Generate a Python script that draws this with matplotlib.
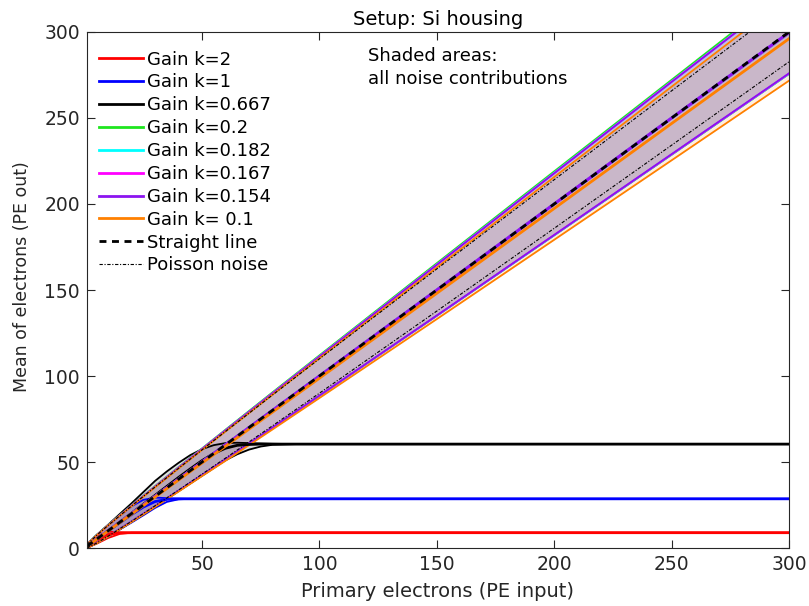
import numpy as np
import matplotlib
matplotlib.use("Agg")
import matplotlib.pyplot as plt

# primary electrons sampled for the saturating gains (k = 2, 1, 0.667)
pe_sat = [1, 5, 10, 15, 20, 25, 30, 35, 40, 45, 50, 55, 60, 65, 70, 75, 80, 90, 300]

k2_mean = [0.8, 4.5, 7.9, 8.8, 8.9, 8.9, 8.9, 8.9, 8.9, 8.9, 8.9, 8.9, 8.9, 8.9, 8.9, 8.9, 8.9, 8.9, 8.9]
k2_hi = [1.8, 6.6, 9.6, 9.1, 8.9, 8.9, 8.9, 8.9, 8.9, 8.9, 8.9, 8.9, 8.9, 8.9, 8.9, 8.9, 8.9, 8.9, 8.9]
k2_lo = [0.2, 2.4, 5.8, 8.2, 8.9, 8.9, 8.9, 8.9, 8.9, 8.9, 8.9, 8.9, 8.9, 8.9, 8.9, 8.9, 8.9, 8.9, 8.9]

k1_mean = [1.0, 5.0, 9.9, 14.7, 19.5, 23.8, 27.0, 28.3, 28.6, 28.6, 28.6, 28.6, 28.6, 28.6, 28.6, 28.6, 28.6, 28.6, 28.6]
k1_hi = [2.0, 7.3, 13.2, 18.8, 24.3, 28.0, 29.3, 29.0, 28.7, 28.6, 28.6, 28.6, 28.6, 28.6, 28.6, 28.6, 28.6, 28.6, 28.6]
k1_lo = [0.1, 2.8, 6.7, 10.8, 14.8, 19.0, 23.3, 26.8, 28.3, 28.6, 28.6, 28.6, 28.6, 28.6, 28.6, 28.6, 28.6, 28.6, 28.6]

k067_mean = [1.0, 5.0, 10.0, 15.0, 20.2, 25.4, 30.6, 35.8, 41.0, 46.0, 50.8, 55.0, 58.0, 59.7, 60.2, 60.4, 60.4, 60.4, 60.4]
k067_hi = [2.0, 7.4, 13.5, 19.8, 26.0, 32.5, 39.0, 44.5, 49.5, 54.0, 57.5, 59.8, 61.0, 61.2, 61.0, 60.8, 60.6, 60.4, 60.4]
k067_lo = [0.1, 2.7, 6.8, 10.8, 15.2, 19.5, 24.0, 28.5, 33.0, 37.5, 42.0, 46.5, 51.0, 54.5, 57.2, 59.0, 60.0, 60.4, 60.4]

# primary electrons sampled for the near-linear gains
pe_lin = [1, 5, 10, 20, 30, 40, 50, 60, 80, 100, 150, 200, 250, 300]

k02_mean = [1, 5, 10, 20, 30, 40, 50, 60, 80, 100, 150, 200, 250, 299.5]
k02_hi = [2.1, 7.4, 13.4, 24.8, 36.0, 47.0, 57.9, 68.8, 90.5, 112.0, 165.6, 219.0, 272.2, 325.4]
k02_lo = [0.0, 2.8, 6.8, 15.4, 24.3, 33.3, 42.4, 51.5, 70.0, 88.5, 135.0, 181.8, 228.6, 275.6]

k0182_mean = [1, 5, 10, 20, 30, 40, 50, 60, 80, 100, 150, 200, 250, 299.6]
k0182_hi = [2.0, 7.3, 13.2, 24.6, 35.7, 46.7, 57.6, 68.4, 90.0, 111.5, 164.9, 218.2, 271.3, 324.0]
k0182_lo = [0.0, 2.8, 6.8, 15.4, 24.3, 33.3, 42.4, 51.5, 69.9, 88.5, 135.0, 181.8, 228.7, 275.6]

k0167_mean = [1, 5, 10, 20, 30, 40, 50, 60, 80, 100, 150, 200, 250, 299.6]
k0167_hi = [2.0, 7.2, 13.2, 24.6, 35.7, 46.7, 57.6, 68.4, 90.0, 111.4, 164.8, 218.0, 271.2, 323.8]
k0167_lo = [0.0, 2.8, 6.8, 15.4, 24.3, 33.3, 42.4, 51.6, 70.0, 88.6, 135.1, 182.0, 228.8, 275.8]

k0154_mean = [1, 5, 10, 20, 30, 40, 50, 60, 80, 100, 150, 200, 250, 299.7]
k0154_hi = [2.0, 7.2, 13.1, 24.5, 35.6, 46.6, 57.4, 68.3, 89.8, 111.2, 164.6, 217.8, 270.9, 323.5]
k0154_lo = [0.0, 2.8, 6.9, 15.5, 24.4, 33.4, 42.5, 51.6, 70.0, 88.6, 135.2, 182.0, 229.0, 276.0]

k01_mean = [1, 4.9, 9.9, 19.7, 29.6, 39.5, 49.4, 59.2, 79.0, 98.7, 148.1, 197.4, 246.8, 296.1]
k01_hi = [2.0, 7.2, 13.1, 24.3, 35.3, 46.2, 57.0, 67.7, 89.1, 110.3, 163.1, 215.7, 268.2, 320.5]
k01_lo = [0.0, 2.6, 6.7, 15.1, 23.9, 32.8, 41.8, 50.7, 68.9, 87.2, 133.1, 179.2, 225.4, 271.7]

# reference curves
straight = [1, 5, 10, 20, 30, 40, 50, 60, 80, 100, 150, 200, 250, 300]
poisson_hi = [2.0, 7.24, 13.16, 24.47, 35.48, 46.32, 57.07, 67.75, 88.94, 110.0, 162.25, 214.14, 265.81, 317.32]
poisson_lo = [0.0, 2.76, 6.84, 15.53, 24.52, 33.68, 42.93, 52.25, 71.06, 90.0, 137.75, 185.86, 234.19, 282.68]

labels = ['Gain k=2', 'Gain k=1', 'Gain k=0.667', 'Gain k=0.2', 'Gain k=0.182',
          'Gain k=0.167', 'Gain k=0.154', 'Gain k= 0.1']
colors = ['#ff0000', '#0000ff', '#000000', '#1ee61e', '#00ffff', '#ff00ff', '#8c14f0', '#ff8000']

curves = [
    (pe_sat, k2_mean, k2_lo, k2_hi),
    (pe_sat, k1_mean, k1_lo, k1_hi),
    (pe_sat, k067_mean, k067_lo, k067_hi),
    (pe_lin, k02_mean, k02_lo, k02_hi),
    (pe_lin, k0182_mean, k0182_lo, k0182_hi),
    (pe_lin, k0167_mean, k0167_lo, k0167_hi),
    (pe_lin, k0154_mean, k0154_lo, k0154_hi),
    (pe_lin, k01_mean, k01_lo, k01_hi),
]

plt.rcParams['font.family'] = ['DejaVu Sans']

fig = plt.figure(figsize=(8.09, 6.06), dpi=100)
ax = fig.add_axes([0.1075, 0.0957, 0.8678, 0.8515])

# shaded noise bands first, then their edges, then the mean curves
for (x, m, lo, hi), c in zip(curves, colors):
    ax.fill_between(x, lo, hi, color=c, alpha=0.13, linewidth=0)
for (x, m, lo, hi), c in zip(curves, colors):
    ax.plot(x, lo, color=c, lw=1.3)
    ax.plot(x, hi, color=c, lw=1.3)
for (x, m, lo, hi), c, lab in zip(curves, colors, labels):
    ax.plot(x, m, color=c, lw=2, label=lab)

ax.plot(pe_lin, straight, color='k', lw=2, linestyle=(0, (2.5, 2)), label='Straight line')
ax.plot(pe_lin, poisson_hi, color='k', lw=0.8, linestyle=(0, (3, 1.5, 1, 1.5)), label='Poisson noise')
ax.plot(pe_lin, poisson_lo, color='k', lw=0.8, linestyle=(0, (3, 1.5, 1, 1.5)))

ax.set_xlim(1, 300)
ax.set_ylim(0, 300)
ax.set_xticks([50, 100, 150, 200, 250, 300])
ax.set_yticks([0, 50, 100, 150, 200, 250, 300])
ax.tick_params(direction='in', top=True, right=True, length=6, width=0.8,
               labelsize=13.5, colors='#262626', pad=5)
for sp in ax.spines.values():
    sp.set_color('#262626')
    sp.set_linewidth(0.8)

ax.set_xlabel('Primary electrons (PE input)', fontsize=14, color='#262626', labelpad=6)
ax.set_ylabel('Mean of electrons (PE out)', fontsize=12.5, color='#262626')
ax.yaxis.set_label_coords(-0.08, 0.525)
ax.set_title('Setup: Si housing', fontsize=14, pad=5)

ax.text(120.5, 291, 'Shaded areas:\nall noise contributions', fontsize=13,
        va='top', ha='left', linespacing=1.3)

ax.legend(loc='upper left', bbox_to_anchor=(0.012, 0.971), frameon=False,
          fontsize=13, handlelength=2.45, handletextpad=0.2,
          labelspacing=0.27, borderaxespad=0, borderpad=0.2)

fig.savefig('out.png', dpi=100)
